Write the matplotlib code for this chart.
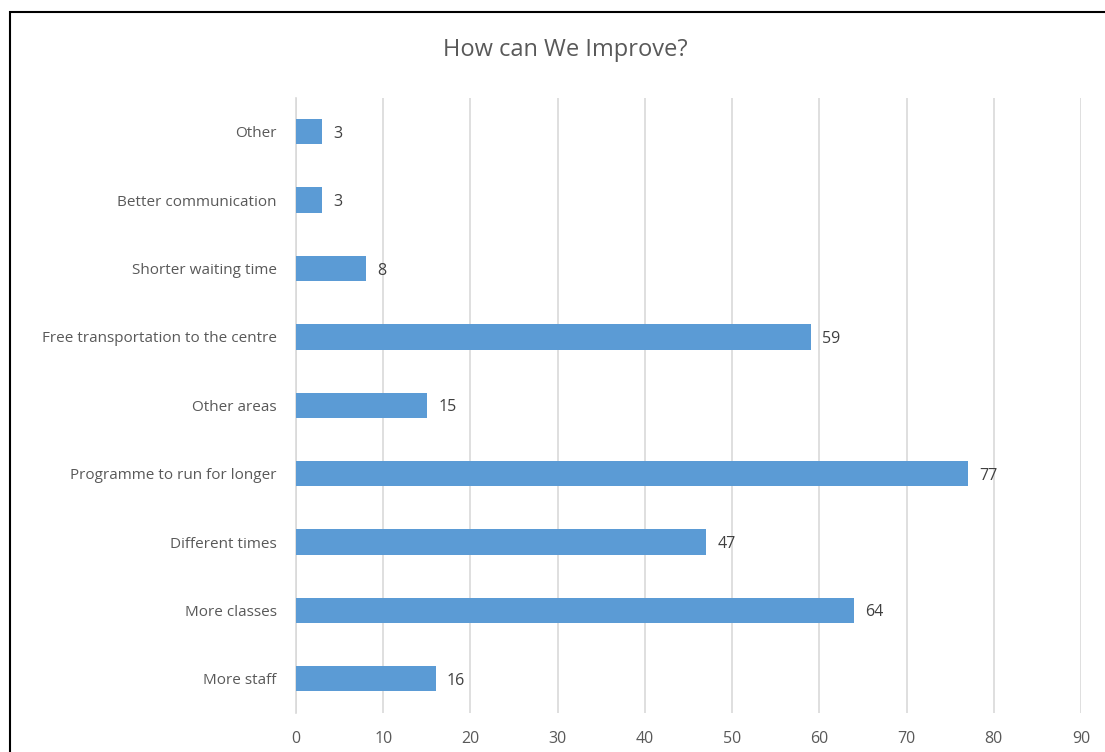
import matplotlib.pyplot as plt
from matplotlib.patches import Rectangle

categories = ['More staff', 'More classes', 'Different times',
              'Programme to run for longer', 'Other areas',
              'Free transportation to the centre', 'Shorter waiting time',
              'Better communication', 'Other']
counts = [16, 64, 47, 77, 15, 59, 8, 3, 3]
xticks = [0, 10, 20, 30, 40, 50, 60, 70, 80, 90]

plt.rcParams['font.family'] = ['Open Sans', 'DejaVu Sans']
grey = '#595959'

fig = plt.figure(figsize=(11.05, 7.52), dpi=100)
ax = fig.add_axes([0.2679, 0.0519, 0.7104, 0.8184])

y = range(len(categories))
ax.barh(y, counts, height=0.37, color='#5b9bd5', zorder=3)
for yi, v in zip(y, counts):
    ax.text(v + 1.3, yi - 0.03, str(v), va='center', ha='left', fontsize=11.5, color='#404040')

ax.set_xlim(0, 90)
ax.set_ylim(-0.5, len(categories) - 0.5)
ax.set_xticks(xticks)
ax.set_yticks(list(y))
ax.set_yticklabels(categories, va='center_baseline')
ax.tick_params(axis='x', length=0, labelsize=11.5, colors=grey, pad=13)
ax.tick_params(axis='y', length=0, labelsize=11, colors=grey, pad=14)
ax.grid(axis='x', color='#d9d9d9', linewidth=1.2, zorder=0)
for s in ['top', 'right', 'bottom']:
    ax.spines[s].set_visible(False)
ax.spines['left'].set_color('#d9d9d9')
ax.spines['left'].set_linewidth(1.2)

fig.text(0.5115, 0.933, 'How can We Improve?', ha='center', va='center',
         fontsize=17, color=grey)

# outer chart frame
fig.patches.append(Rectangle((10 / 1105, -0.1), 1.2, (740 / 752) + 0.1,
                             transform=fig.transFigure, fill=False,
                             edgecolor='black', linewidth=1.5))

fig.savefig('out.png', dpi=100)
